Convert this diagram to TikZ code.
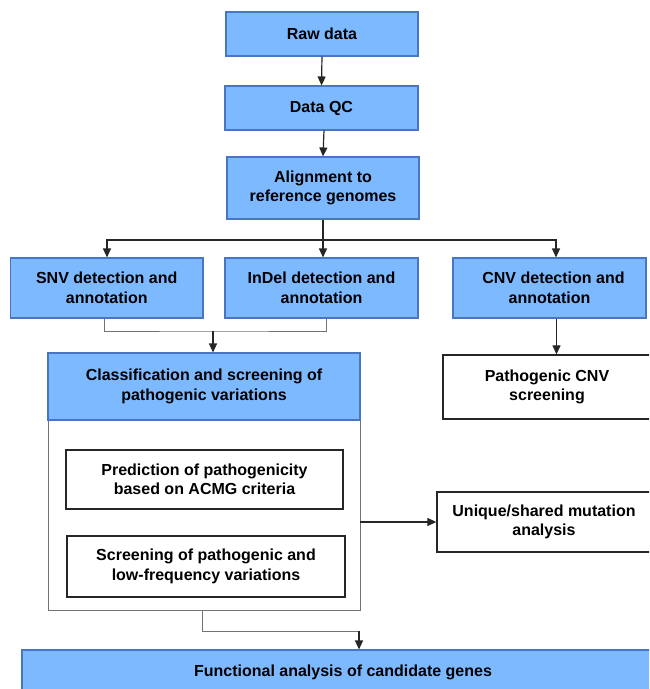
\documentclass[tikz,border=0pt]{standalone}
\usepackage{fontspec}
\setmainfont{Liberation Sans}
\usetikzlibrary{arrows.meta}
\definecolor{boxblue}{RGB}{125,185,255}
\definecolor{edgeblue}{RGB}{72,118,192}
\begin{document}
\begin{tikzpicture}[x=1pt,y=-1pt,
  boxtext/.style={align=center, inner sep=0pt, font=\bfseries\fontsize{16}{19.5}\selectfont},
  bluebox/.style={boxtext, draw=edgeblue, line width=1.1pt, fill=boxblue},
  whitebox/.style={boxtext, draw=black!85, line width=1.3pt, fill=white},
  framebox/.style={draw=black!55, line width=0.8pt, fill=white, inner sep=0pt},
  conn/.style={line width=1.2pt, draw=black!85},
  grayconn/.style={line width=1pt, draw=black!55},
  arr/.style={conn, -{Triangle[length=9pt,width=8pt]}},
]
\clip (0,0) rectangle (649,689);
\fill[white] (0,0) rectangle (649,689);

% top chain
\node[bluebox, minimum width=192pt, minimum height=44pt] (raw) at (322,34) {Raw data};
\node[bluebox, minimum width=193pt, minimum height=44pt] (qc) at (321.5,108) {Data QC};
\node[bluebox, minimum width=192pt, minimum height=62pt] (align) at (323,188) {Alignment to\\reference genomes};

% detection row
\node[bluebox, minimum width=192.5pt, minimum height=60pt] (snv) at (106.75,288) {SNV detection and\\annotation};
\node[bluebox, minimum width=193pt, minimum height=60pt] (indel) at (321.5,288) {InDel detection and\\annotation};
\node[bluebox, minimum width=193pt, minimum height=60pt] (cnv) at (549.5,288) {\hspace*{8pt}CNV detection and\\annotation};

% classification block
\node[framebox, minimum width=312pt, minimum height=190pt] (frame) at (204,515) {};
\node[bluebox, minimum width=312pt, minimum height=67pt] (class) at (204,386.5) {Classification and screening of\\pathogenic variations};
\node[whitebox, minimum width=277pt, minimum height=59pt] (pred) at (204.5,479.5) {Prediction of pathogenicity\\based on ACMG criteria};
\node[whitebox, minimum width=278pt, minimum height=61pt] (scr) at (206,566.5) {Screening of pathogenic and\\low-frequency variations};

% right column
\node[whitebox, minimum width=208pt, minimum height=64pt] (pcnv) at (547,387) {Pathogenic CNV\\screening};
\node[whitebox, minimum width=214pt, minimum height=60pt] (uniq) at (544,522) {Unique/shared mutation\\analysis};

% bottom
\node[bluebox, minimum width=642pt, minimum height=44pt] (func) at (343,672) {Functional analysis of candidate genes};

% connectors
\draw[arr] (raw.south) -- (qc.north);
\draw[arr] ([xshift=2.5pt]qc.south) -- (align.north);
\coordinate (split) at (323,240);
\draw[conn] (align.south) -- (split);
\draw[arr] (split) -| ([xshift=0.25pt]snv.north);
\draw[arr] (split) -- (split |- indel.north);
\draw[arr] (split) -| ([xshift=6.5pt]cnv.north);

\coordinate (merge) at (213,331);
\draw[grayconn] ([xshift=-2.75pt]snv.south) |- (merge) -| ([xshift=4.5pt]indel.south);
\draw[arr] (merge) -- (merge |- class.north);

\draw[arr] ([xshift=7pt]cnv.south) -- ([xshift=7pt]cnv.south |- pcnv.north);
\draw[arr] (frame.east |- uniq.west) -- (uniq.west);

\coordinate (down) at (202,631);
\coordinate (fin) at (359,631);
\draw[grayconn] (down |- frame.south) -- (down) -- (fin);
\draw[arr] (fin) -- (fin |- func.north);
\end{tikzpicture}
\end{document}
